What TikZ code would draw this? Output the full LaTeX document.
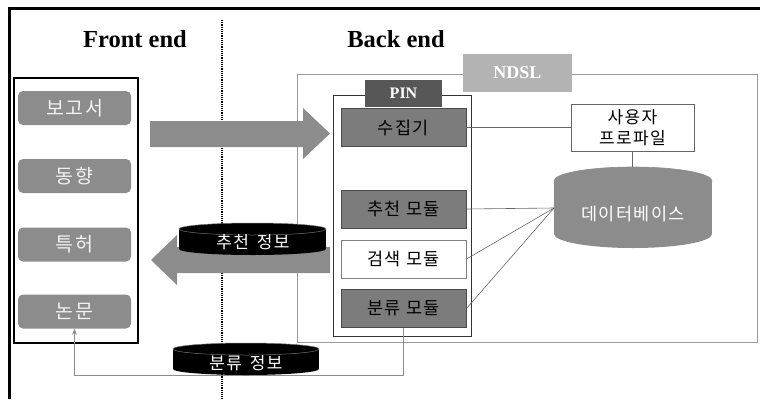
\documentclass[tikz,border=0pt]{standalone}
\usepackage{fontspec}
\setmainfont{Liberation Serif}
\newfontfamily\kr[LetterSpace=8]{Noto Sans CJK KR}
\usetikzlibrary{arrows.meta}
\definecolor{boxgray}{HTML}{8C8C8C}
\definecolor{modgray}{HTML}{7C7C7C}
\definecolor{modline}{HTML}{4A4A4A}
\definecolor{pingray}{HTML}{575757}
\definecolor{ndslgray}{HTML}{B3B3B3}
\definecolor{linegray}{HTML}{9A9A9A}
\definecolor{txtlight}{HTML}{F2F2F2}
\tikzset{
  srcbox/.style={draw=none, fill=boxgray, rounded corners=5pt, minimum width=113pt, minimum height=34pt, inner sep=0pt, text=txtlight, font=\kr\fontsize{19.5}{21}\selectfont},
  modbox/.style={draw=modline, line width=0.9pt, fill=modgray, minimum width=125pt, minimum height=38pt, inner sep=0pt, text=black, font=\kr\fontsize{17.5}{19}\selectfont},
  whitebox/.style={draw=modline!70, line width=0.9pt, fill=white, minimum width=125pt, minimum height=38pt, inner sep=0pt, text=black, font=\kr\fontsize{17.5}{19}\selectfont},
  thinlink/.style={draw=black!60, line width=0.6pt},
  title/.style={font=\bfseries\fontsize{24.5}{26}\selectfont, inner sep=0pt},
  cyltext/.style={inner sep=0pt, font=\kr\fontsize{17}{19}\selectfont},
}
\begin{document}
\begin{tikzpicture}[x=1pt,y=-1pt]
\useasboundingbox (0,0) rectangle (760,399);
\fill[white] (0,0) rectangle (760,399);
% outer frame
\draw[line width=3pt] (9,399) -- (9,8) -- (760,8);
% dotted divider
\draw[line width=1.3pt, dash pattern=on 1.1pt off 1.1pt] (222,20) -- (222,399);
% titles
\node[title] (fe) at (135,39) {Front end};
\node[title] (be) at (396,39) {Back end};
% front-end box
\node[draw=black, line width=1.2pt, minimum width=124pt, minimum height=265pt, inner sep=0pt] (front) at (76,210.5) {};
\node[srcbox] (s1) at (74.5,108) {보고서};
\node[srcbox] (s2) at (74.5,176) {동향};
\node[srcbox] (s3) at (74.5,244.5) {특허};
\node[srcbox] (s4) at (74.5,311.5) {논문};
% NDSL box
\node[draw=linegray, line width=1pt, minimum width=460pt, minimum height=268pt, inner sep=0pt] (ndsl) at (527,208) {};
\node[fill=ndslgray, minimum width=109pt, minimum height=38pt, inner sep=0pt, text=white, font=\bfseries\fontsize{18}{20}\selectfont] (ndsllab) at (517.5,73) {NDSL};
% PIN box
\node[draw=black!80, line width=0.9pt, minimum width=138pt, minimum height=241pt, inner sep=0pt] (pin) at (402,215.5) {};
\node[fill=pingray, minimum width=77pt, minimum height=27pt, inner sep=0pt, text=white, font=\bfseries\fontsize{16}{18}\selectfont] (pinlab) at (403.5,93.5) {PIN};
% modules
\node[modbox] (m1) at (403.5,127.5) {수집기};
\node[modbox] (m2) at (403.5,209) {추천 모듈};
\node[whitebox] (m3) at (403.5,259) {검색 모듈};
\node[modbox] (m4) at (403.5,308.5) {분류 모듈};
% user profile
\node[draw=black!60, line width=0.9pt, fill=white, minimum width=123pt, minimum height=47pt, inner sep=0pt, align=center, font=\kr\fontsize{17}{21}\selectfont] (prof) at (632.5,127.5) {사용자\\프로파일};
% database cylinder
\fill[boxgray] (554,181) rectangle (712,234);
\fill[boxgray] (633,234) ellipse [x radius=79, y radius=14];
\fill[boxgray] (633,181) ellipse [x radius=79, y radius=14];
\draw[black!45, line width=0.6pt] (633,181) ellipse [x radius=79, y radius=14];
\node[cyltext, text=white, font=\kr\fontsize{17.5}{19}\selectfont] (db) at (633,214) {데이터베이스};
\coordinate (dbL) at (554,208);
\coordinate (dbT) at (632.5,167);
% links
\draw[thinlink] (m1.east) -- (prof.west);
\draw[thinlink] (prof.south) -- (dbT);
\draw[thinlink] (m2.east) -- (dbL);
\draw[thinlink] (m3.east) -- (dbL);
\draw[thinlink] (m4.east) -- (dbL);
% big right arrow
\fill[boxgray] (150,121) -- (303,121) -- (303,108) -- (330,133.5) -- (303,159) -- (303,147) -- (150,147) -- cycle;
% big left arrow
\fill[boxgray] (330,247) -- (177,247) -- (177,235) -- (151,260) -- (177,285) -- (177,273) -- (330,273) -- cycle;
% feedback connector
\coordinate (c1) at (403.5,375.5);
\coordinate (c2) at (74.5,375.5);
\draw[boxgray, line width=1.5pt, -{Stealth[length=6pt,width=5pt]}] (m4.south) -- (c1) -- (c2) -- (s4.south);
% black cylinder: recommendation info
\fill[black] (179,229) rectangle (326,249);
\fill[black] (252.5,249) ellipse [x radius=73.5, y radius=6];
\fill[black] (252.5,229) ellipse [x radius=73.5, y radius=6];
\draw[black!55, line width=0.5pt] (252.5,229) ellipse [x radius=73.5, y radius=6];
\node[cyltext, text=white] (rec) at (253,242) {추천 \,정보};
% black cylinder: classification info
\fill[black] (173,349) rectangle (319,369);
\fill[black] (246,369) ellipse [x radius=73, y radius=6];
\fill[black] (246,349) ellipse [x radius=73, y radius=6];
\draw[black!55, line width=0.5pt] (246,349) ellipse [x radius=73, y radius=6];
\node[cyltext, text=white] (cls) at (246,363) {분류 \,정보};
\end{tikzpicture}
\end{document}
